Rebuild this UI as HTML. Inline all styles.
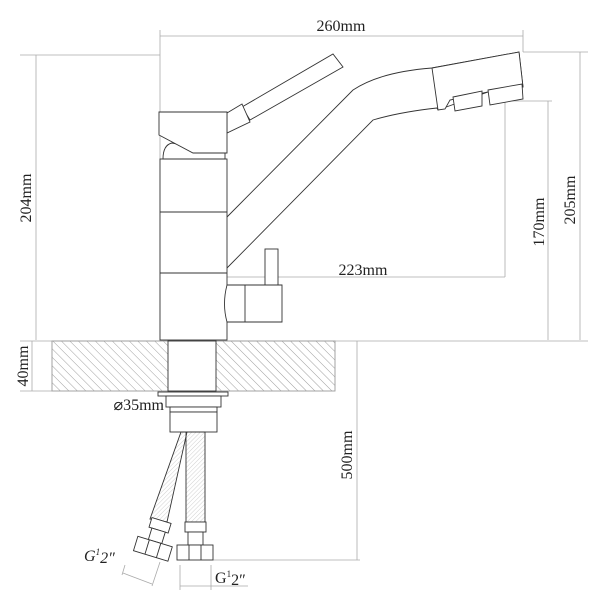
<!DOCTYPE html>
<html><head><style>
html,body{margin:0;padding:0;background:#fff;}
svg{display:block}
text{font-family:"Liberation Serif",serif;fill:#222;}
</style></head><body>
<svg width="600" height="600" viewBox="0 0 600 600" xmlns="http://www.w3.org/2000/svg">
<defs>
<pattern id="h" width="6" height="6" patternUnits="userSpaceOnUse" patternTransform="rotate(-45)">
<line x1="0" y1="0" x2="0" y2="6" stroke="#888" stroke-width="0.8"/>
</pattern>
<pattern id="br" width="3" height="3" patternUnits="userSpaceOnUse" patternTransform="rotate(45)">
<line x1="0" y1="0" x2="0" y2="3" stroke="#bbb" stroke-width="0.7"/>
</pattern>
</defs>
<g stroke="#aaa" stroke-width="0.8" fill="none">
<line x1="160" y1="36" x2="523" y2="36"/>
<line x1="160" y1="30" x2="160" y2="340"/>
<line x1="523" y1="30" x2="523" y2="52"/>
<line x1="20" y1="55" x2="160" y2="55"/>
<line x1="523" y1="52" x2="588" y2="52"/>
<line x1="36" y1="55" x2="36" y2="340"/>
<line x1="580" y1="52" x2="580" y2="340"/>
<line x1="505" y1="101" x2="552" y2="101"/>
<line x1="548" y1="101" x2="548" y2="340"/>
<line x1="505" y1="101" x2="505" y2="277"/>
<line x1="193" y1="277" x2="505" y2="277"/>
<line x1="193" y1="277" x2="193" y2="340"/>
<line x1="20" y1="341" x2="588" y2="341"/>
<line x1="20" y1="391" x2="52" y2="391"/>
<line x1="32" y1="341" x2="32" y2="391"/>
<line x1="357" y1="341" x2="357" y2="560"/>
<line x1="213" y1="560" x2="360" y2="560"/>
<line x1="180" y1="586" x2="248" y2="586"/>
<line x1="180" y1="565" x2="180" y2="590"/>
<line x1="211" y1="565" x2="211" y2="590"/>
<line x1="123" y1="573" x2="152" y2="584"/>
<line x1="125" y1="565" x2="122" y2="575"/>
<line x1="160" y1="562" x2="152" y2="586"/>
</g>
<g stroke="#333" stroke-width="0.9" fill="#fff">
<polygon points="242,107 333,54 343,67 250,120"/>
<polygon points="227,113 242,104 250,122 227,133"/>
<path d="M227,217 L353,90 Q380,72 432,68 L519,52 L523,87 L488,92 L438,110 L437,108 Q400,112 373,120 L227,268 Q210,242 227,217 Z"/>
<polygon points="432,68 519,52 523,87 488,92 450,100 445,109 438,110"/>
<polygon points="453,97 482,91 482,106 455,111"/>
<polygon points="488,90 522,84 523,99 490,105"/>
<rect x="160" y="159" width="67" height="181"/>
<line x1="160" y1="212" x2="227" y2="212"/>
<line x1="160" y1="273" x2="227" y2="273"/>
<path d="M163,159 Q163,145 172,143 L225,153 L225,159 Z"/>
<polygon points="159,112 227,112 227,153 193,153 159,135"/>
<rect x="265" y="249" width="13" height="38"/>
<path d="M227,285 L282,285 L282,322 L227,322 Q222,304 227,285 Z"/>
<line x1="245" y1="285" x2="245" y2="322"/>
<rect x="52" y="341" width="283" height="50" fill="url(#h)" stroke="#999"/>
<rect x="168" y="341" width="48" height="50" fill="#fff"/>
<rect x="158" y="392" width="70" height="4"/>
<rect x="166" y="396" width="55" height="11"/>
<rect x="170" y="407" width="47" height="5"/>
<rect x="170" y="412" width="47" height="20"/>
<rect x="186" y="432" width="19" height="90" fill="url(#br)"/>
<rect x="185" y="522" width="21" height="10"/>
<rect x="188" y="532" width="15" height="13"/>
<rect x="177" y="545" width="36" height="15"/>
<line x1="189" y1="545" x2="189" y2="560"/>
<line x1="201" y1="545" x2="201" y2="560"/>
<polygon points="181,432 187,432 167,522 150,519" fill="url(#br)"/>
<g transform="translate(158,532) rotate(17)">
<rect x="-10" y="-12" width="20" height="10"/>
<rect x="-7" y="-2" width="14" height="12"/>
<rect x="-18" y="10" width="36" height="15"/>
<line x1="-6" y1="10" x2="-6" y2="25"/>
<line x1="6" y1="10" x2="6" y2="25"/>
</g>
</g>
<g font-size="16">
<text x="341" y="31" text-anchor="middle">260mm</text>
<text x="363" y="275" text-anchor="middle">223mm</text>
<text x="164" y="410" text-anchor="end">⌀35mm</text>
<text transform="translate(31,198) rotate(-90)" text-anchor="middle">204mm</text>
<text transform="translate(575,200) rotate(-90)" text-anchor="middle">205mm</text>
<text transform="translate(544,222) rotate(-90)" text-anchor="middle">170mm</text>
<text transform="translate(28,366) rotate(-90)" text-anchor="middle">40mm</text>
<text transform="translate(352,455) rotate(-90)" text-anchor="middle">500mm</text>
<text x="84" y="561" font-style="italic">G<tspan font-size="9" dy="-6">1</tspan><tspan dy="8">2″</tspan></text>
<text x="215" y="583">G<tspan font-size="9" dy="-6">1</tspan><tspan dy="8">2″</tspan></text>
</g>
</svg>
</body></html>
